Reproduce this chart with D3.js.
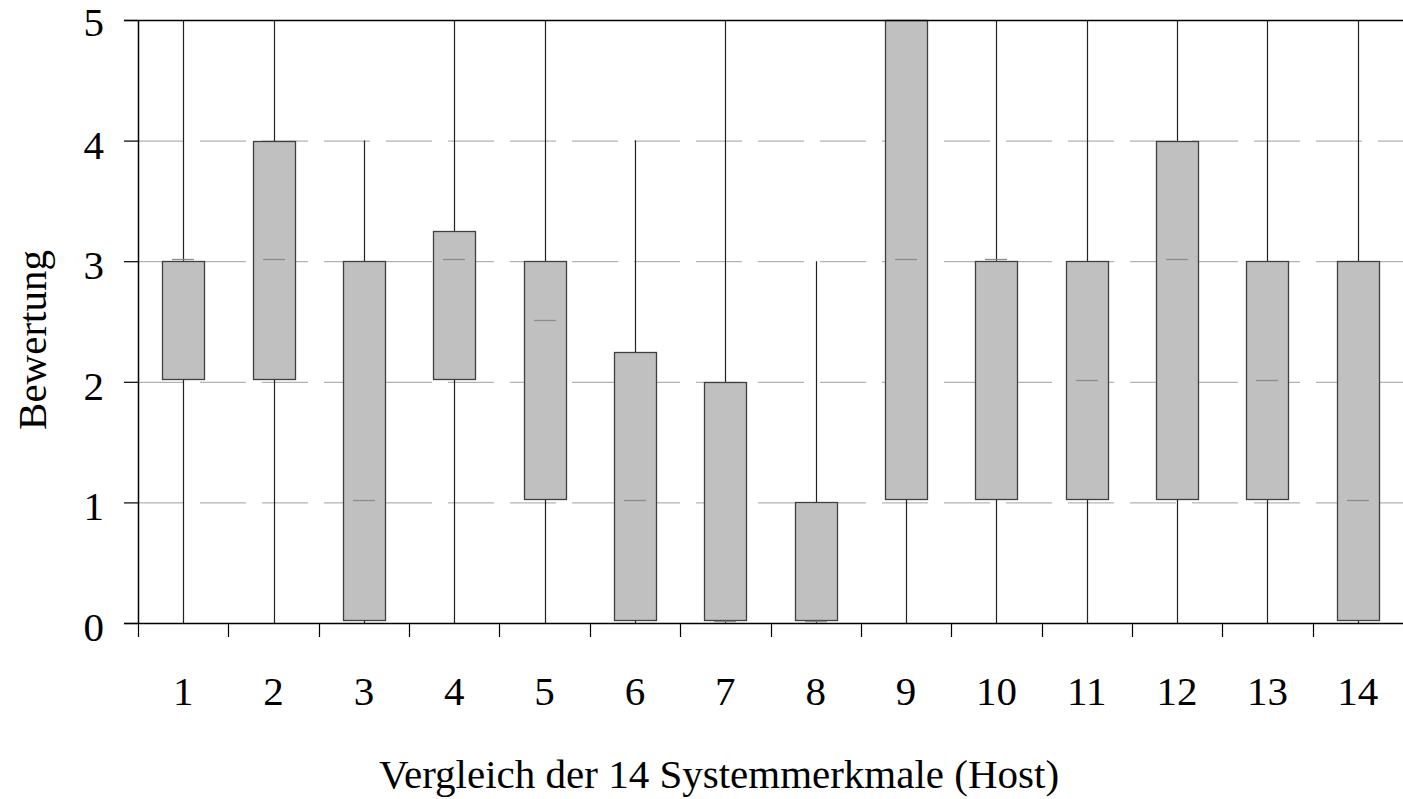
<!DOCTYPE html>
<html>
<head>
<meta charset="utf-8">
<script src="https://cdn.jsdelivr.net/npm/d3@7"></script>
<style>
  body { margin: 0; background: #fff; }
  text { font-family: "Liberation Serif", "Times New Roman", serif; fill: #000; }
</style>
</head>
<body>
<div id="chart"></div>
<script>
var categories = ["1", "2", "3", "4", "5", "6", "7", "8", "9", "10", "11", "12", "13", "14"];
var mins    = [0, 0, 0, 0, 0, 0, 0, 0, 0, 0, 0, 0, 0, 0];
var q1s     = [2, 2, 0, 2, 1, 0, 0, 0, 1, 1, 1, 1, 1, 0];
var medians = [3, 3, 1, 3, 2.5, 1, 0, 0, 3, 3, 2, 3, 2, 1];
var q3s     = [3, 4, 3, 3.25, 3, 2.25, 2, 1, 5, 3, 3, 4, 3, 3];
var maxs    = [5, 5, 4, 5, 5, 4, 5, 3, 5, 5, 5, 5, 5, 5];
var yTicks  = [0, 1, 2, 3, 4, 5];

var W = 1403, H = 799;
var mLeft = 138, mRight = 1403, mTop = 20, mBottom = 623;
var FONT = "41px";

var svg = d3.select("#chart").append("svg")
        .attr("width", W)
        .attr("height", H);

var x = d3.scaleBand().domain(categories).range([mLeft, mRight]);
var y = d3.scaleLinear().domain([0, 5]).range([mBottom, mTop]);

// dashed grid lines
svg.append("g")
        .selectAll("line")
        .data(yTicks.filter(function(d) { return d > 0 && d < 5; }))
        .enter().append("line")
        .attr("x1", mLeft).attr("x2", mRight)
        .attr("y1", function(d) { return y(d) + 0.5; })
        .attr("y2", function(d) { return y(d) + 0.5; })
        .style("stroke", "#a0a0a0")
        .style("stroke-width", "1px")
        .style("stroke-dasharray", "46,16");

var data = categories.map(function(c, i) {
        return { c: c, min: mins[i], q1: q1s[i], med: medians[i], q3: q3s[i], max: maxs[i] };
});

function cx(d) {
        return Math.round(x(d.c) + x.bandwidth() / 2);
}

var boxW = 42;
var g = svg.append("g").attr("class", "boxes");

// whiskers
g.selectAll(".whisker")
        .data(data)
        .enter().append("line")
        .attr("class", "whisker")
        .attr("x1", function(d) { return cx(d) + 0.5; })
        .attr("x2", function(d) { return cx(d) + 0.5; })
        .attr("y1", function(d) { return y(d.min); })
        .attr("y2", function(d) { return y(d.max); })
        .style("stroke", "#222")
        .style("stroke-width", "1.2px");

// boxes (the lower edge sits a few pixels above the value in the original)
g.selectAll(".box")
        .data(data)
        .enter().append("rect")
        .attr("class", "box")
        .attr("x", function(d) { return cx(d) - boxW / 2 + 0.5; })
        .attr("width", boxW)
        .attr("y", function(d) { return Math.round(y(d.q3)) + 0.5; })
        .attr("height", function(d) { return Math.round(y(d.q1) - 3) - Math.round(y(d.q3)); })
        .style("fill", "#c0c0c0")
        .style("stroke", "#404040")
        .style("stroke-width", "1.3px");

// medians
g.selectAll(".median")
        .data(data)
        .enter().append("line")
        .attr("class", "median")
        .attr("x1", function(d) { return cx(d) - 11; })
        .attr("x2", function(d) { return cx(d) + 11; })
        .attr("y1", function(d) { return Math.round(y(d.med)) - 1.5; })
        .attr("y2", function(d) { return Math.round(y(d.med)) - 1.5; })
        .style("stroke", "#8c8c8c")
        .style("stroke-width", "1.3px");

// frame: top line, left axis, bottom axis
svg.append("line")
        .attr("x1", 124).attr("x2", mRight)
        .attr("y1", mTop + 0.5).attr("y2", mTop + 0.5)
        .style("stroke", "#000").style("stroke-width", "1.5px");
svg.append("line")
        .attr("x1", mLeft + 0.5).attr("x2", mLeft + 0.5)
        .attr("y1", mTop).attr("y2", mBottom)
        .style("stroke", "#000").style("stroke-width", "1.5px");
svg.append("line")
        .attr("x1", 124).attr("x2", mRight)
        .attr("y1", mBottom + 0.5).attr("y2", mBottom + 0.5)
        .style("stroke", "#000").style("stroke-width", "1.5px");

// y ticks and labels
var yAxis = svg.append("g");
yAxis.selectAll("line")
        .data(yTicks)
        .enter().append("line")
        .attr("x1", 124).attr("x2", mLeft)
        .attr("y1", function(d) { return y(d) + 0.5; })
        .attr("y2", function(d) { return y(d) + 0.5; })
        .style("stroke", "#000").style("stroke-width", "1.2px");
yAxis.selectAll("text")
        .data(yTicks)
        .enter().append("text")
        .attr("x", 104)
        .attr("y", function(d) { return y(d) + (d === 5 ? 16 : 18); })
        .attr("text-anchor", "end")
        .style("font-size", FONT)
        .text(function(d) { return d; });

// x boundary ticks and labels
var xAxis = svg.append("g");
xAxis.selectAll("line")
        .data(categories)
        .enter().append("line")
        .attr("x1", function(d) { return Math.round(x(d)) + 0.5; })
        .attr("x2", function(d) { return Math.round(x(d)) + 0.5; })
        .attr("y1", mBottom).attr("y2", mBottom + 14)
        .style("stroke", "#000").style("stroke-width", "1.2px");
xAxis.selectAll("text")
        .data(categories)
        .enter().append("text")
        .attr("x", function(d) { return x(d) + x.bandwidth() / 2; })
        .attr("y", 705)
        .attr("text-anchor", "middle")
        .style("font-size", FONT)
        .text(function(d) { return d; });

// titles
svg.append("text")
        .attr("x", 719)
        .attr("y", 788)
        .attr("text-anchor", "middle")
        .style("font-size", FONT)
        .text("Vergleich der 14 Systemmerkmale (Host)");
svg.append("text")
        .attr("transform", "translate(46,340) rotate(-90)")
        .attr("text-anchor", "middle")
        .style("font-size", FONT)
        .text("Bewertung");
</script>
</body>
</html>
